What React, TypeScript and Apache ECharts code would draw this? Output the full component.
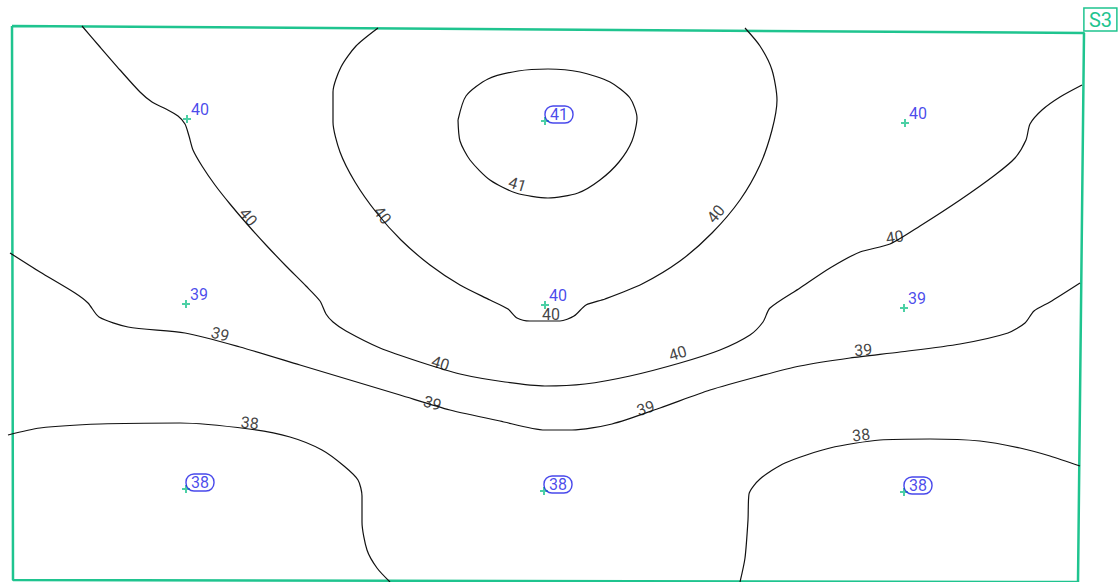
import React, { useEffect, useRef } from "react";
import * as echarts from "echarts";

// Survey boundary (map coordinates)
const boundary: number[][] = [
  [12, 26], [1084, 33], [1078, 582], [13, 580], [12, 26],
];

// Contour lines (map coordinates)
const contour40Outer: number[][] = [
  [82, 26], [100, 47], [120, 70], [140, 92], [152, 102], [166, 109], [178, 116],
  [185, 124], [189, 136], [193, 150], [202, 166], [215, 185], [230, 204], [247, 224],
  [266, 245], [286, 266], [306, 286], [320, 301], [326, 314], [333, 322], [346, 331],
  [380, 348], [420, 362], [460, 374], [505, 382], [545, 386], [585, 384], [630, 376],
  [680, 363], [720, 350], [750, 335], [763, 322], [770, 308], [800, 288], [830, 268],
  [860, 252], [890, 244], [920, 226], [960, 200], [995, 175], [1015, 158], [1026, 140],
  [1030, 124], [1042, 110], [1060, 97], [1082, 85],
];
const contour40Inner: number[][] = [
  [378, 28], [356, 46], [341, 67], [333, 92], [333, 122], [340, 152], [355, 182],
  [376, 212], [401, 240], [430, 265], [460, 285], [490, 300], [508, 309], [517, 318],
  [530, 321], [560, 321], [574, 316], [586, 305], [605, 299], [642, 284], [680, 261],
  [712, 233], [740, 200], [760, 165], [772, 130], [777, 100], [772, 70], [760, 46],
  [745, 28],
];
const contour41: number[][] = [
  [458, 120], [466, 96], [488, 79], [518, 71], [548, 69], [580, 72], [610, 82],
  [630, 98], [637, 118], [632, 141], [619, 162], [600, 180], [578, 193], [548, 198],
  [516, 193], [490, 180], [470, 160], [460, 141], [458, 120],
];
const contour39: number[][] = [
  [10, 253], [40, 272], [75, 293], [88, 303], [99, 317], [128, 327], [185, 333],
  [240, 347], [300, 365], [350, 380], [400, 395], [450, 410], [500, 421], [545, 430],
  [572, 430], [612, 424], [660, 408], [710, 390], [760, 376], [800, 366], [850, 358],
  [900, 352], [960, 344], [1008, 333], [1025, 323], [1034, 311], [1050, 302], [1080, 283],
];
const contour38West: number[][] = [
  [8, 435], [40, 428], [100, 424], [180, 423], [249, 429], [290, 437], [322, 450],
  [344, 466], [358, 480], [362, 496], [362, 522], [367, 550], [377, 568], [390, 582],
];
const contour38East: number[][] = [
  [740, 582], [745, 558], [748, 520], [749, 494], [760, 479], [785, 463], [830, 448],
  [880, 440], [930, 439], [980, 441], [1020, 448], [1050, 456], [1080, 466],
];

// Contour labels: [x, y, text, angle]
const contourLabels: [number, number, string, number][] = [
  [242, 222, "40", -51],
  [376, 220, "40", -52],
  [515, 192, "41", -17],
  [551, 322, "40", 0],
  [722, 219, "40", 50],
  [438, 371, "40", -17],
  [680, 361, "40", 17],
  [896, 245, "40", 9],
  [218, 342, "39", -15],
  [430, 411, "39", -17],
  [648, 416, "39", 17],
  [864, 358, "39", 5],
  [249, 431, "38", -6],
  [862, 443, "38", 6],
];

// Survey stations
const stationX: number[] = [187, 545, 905, 186, 545, 904, 186, 544, 904];
const stationY: number[] = [119, 121, 123, 304, 305, 308, 489, 491, 492];
const stationValue: number[] = [40, 41, 40, 39, 40, 39, 38, 38, 38];
const stationBoxed: boolean[] = [false, true, false, false, false, false, true, true, true];

const sheetLabel = "S3";

const GREEN = "#1fc48f";
const BLUE = "#1a1ae6";
const INK = "#111111";
const FONT = "Roboto, 'DejaVu Sans', sans-serif";

export default function App() {
  const ref = useRef<HTMLDivElement>(null);
  useEffect(() => {
    document.body.style.margin = "0";
    if (!ref.current) return;
    const chart = echarts.init(ref.current, undefined, { renderer: "svg" });
    const lineSeries = (data: number[][]) => ({
      type: "line",
      data,
      showSymbol: false,
      smooth: 0.25,
      silent: true,
      lineStyle: { color: INK, width: 1.2 },
      z: 2,
    });
    chart.setOption({
      animation: false,
      backgroundColor: "#ffffff",
      title: {
        text: sheetLabel,
        right: 3,
        top: 8,
        padding: [2, 5, 1, 5],
        borderColor: GREEN,
        borderWidth: 1.5,
        textStyle: { color: GREEN, fontSize: 20, fontWeight: "normal", fontFamily: FONT },
      },
      grid: { left: 0, right: 0, top: 0, bottom: 0 },
      xAxis: { type: "value", min: 0, max: 1120, show: false },
      yAxis: { type: "value", min: 0, max: 582, inverse: true, show: false },
      series: [
        {
          type: "line",
          data: boundary,
          showSymbol: false,
          silent: true,
          lineStyle: { color: GREEN, width: 2.5 },
          z: 1,
        },
        lineSeries(contour40Outer),
        lineSeries(contour40Inner),
        lineSeries(contour41),
        lineSeries(contour39),
        lineSeries(contour38West),
        lineSeries(contour38East),
        {
          type: "scatter",
          symbol: "circle",
          symbolSize: 0.1,
          itemStyle: { color: "rgba(0,0,0,0)" },
          silent: true,
          z: 3,
          data: contourLabels.map((l) => ({
            value: [l[0], l[1]],
            label: { formatter: l[2], rotate: l[3] },
          })),
          label: {
            show: true,
            position: "inside",
            align: "center",
            verticalAlign: "bottom",
            color: INK,
            fontSize: 16,
            fontFamily: FONT,
          },
        },
        {
          type: "scatter",
          symbol: "path://M3,0H5V3H8V5H5V8H3V5H0V3H3Z",
          symbolSize: 8,
          itemStyle: { color: GREEN },
          silent: true,
          z: 4,
          data: stationX.map((x, i) => ({
            value: [x, stationY[i], stationValue[i]],
            label: stationBoxed[i]
              ? {
                  borderColor: BLUE,
                  borderWidth: 1.4,
                  borderRadius: 8,
                  padding: [0, 5, 0, 5],
                  offset: [0, 2],
                }
              : { offset: [4, -1] },
          })),
          label: {
            show: true,
            position: "inside",
            align: "left",
            verticalAlign: "bottom",
            formatter: (p: any) => String(p.value[2]),
            color: BLUE,
            fontSize: 16,
            lineHeight: 17,
            fontFamily: FONT,
          },
        },
      ],
    });
    return () => chart.dispose();
  }, []);
  return <div ref={ref} style={{ width: 1120, height: 582 }} />;
}
